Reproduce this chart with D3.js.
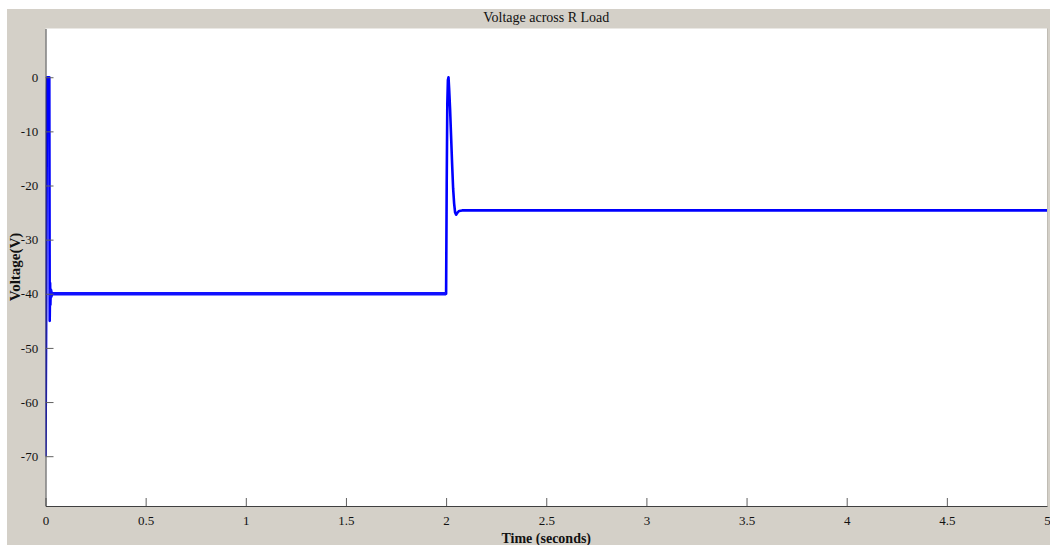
<!DOCTYPE html>
<html>
<head>
<meta charset="utf-8">
<script src="https://cdn.jsdelivr.net/npm/d3@7"></script>
<style>
  html, body { margin: 0; padding: 0; background: #ffffff; }
  svg { display: block; }
  text { font-family: "Liberation Serif", "Times New Roman", serif; fill: #111; }
</style>
</head>
<body>
<svg id="chart" width="1050" height="545"></svg>
<script>
// ---- data ----
const title = "Voltage across R Load";
const xLabel = "Time (seconds)";
const yLabel = "Voltage(V)";
const xTicks = [0, 0.5, 1, 1.5, 2, 2.5, 3, 3.5, 4, 4.5, 5];
const yTicks = [0, -10, -20, -30, -40, -50, -60, -70];
const xDomain = [0, 5];
const yDomain = [-79.2, 9];

// time (s) and voltage (V) of the trace
const time = [0, 0.004, 0.007, 0.009, 0.019, 0.021, 0.023, 0.0245, 0.026, 0.0275, 0.029, 0.031, 0.034,
              0.5, 1.0, 1.5, 1.998,
              2.0, 2.003, 2.006, 2.009, 2.012, 2.015, 2.02, 2.025, 2.03, 2.035, 2.04, 2.045, 2.05, 2.057, 2.065, 2.08,
              3, 4, 5];
const voltage = [-70, -40, -3, 0, 0, -45, -38, -42, -39.2, -40.6, -39.7, -40.2, -40,
                 -40, -40, -40, -40,
                 -40, -20, -5, -0.5, 0, -2, -6, -11, -16, -20.5, -23.3, -25, -25.4, -25.0, -24.7, -24.6,
                 -24.6, -24.6, -24.6];
// portion of the trace that looks slightly noisy/thicker (steady state before the step)
const steadyStart = 0.026, steadyEnd = 2.0;

// ---- layout ----
const W = 1050, H = 545;
const plot = { left: 45.5, right: 1047, top: 28.5, bottom: 506 };

const svg = d3.select("#chart");

// grey figure background
svg.append("rect").attr("x", 7).attr("y", 9).attr("width", W - 7).attr("height", H - 9)
  .attr("fill", "#d4d0c8");
// white plot area
svg.append("rect").attr("x", plot.left).attr("y", plot.top)
  .attr("width", plot.right - plot.left).attr("height", plot.bottom - plot.top)
  .attr("fill", "#ffffff");

const x = d3.scaleLinear().domain(xDomain).range([plot.left, plot.right]);
const y = d3.scaleLinear().domain(yDomain).range([plot.bottom, plot.top]);

const pts = time.map((t, i) => [t, voltage[i]]);
const line = d3.line().x(d => x(d[0])).y(d => y(d[1]));

svg.append("clipPath").attr("id", "clip").append("rect")
  .attr("x", plot.left).attr("y", plot.top)
  .attr("width", plot.right - plot.left).attr("height", plot.bottom - plot.top);

const g = svg.append("g").attr("clip-path", "url(#clip)");
g.append("path").datum(pts).attr("d", line)
  .attr("fill", "none").attr("stroke", "#0000ff").attr("stroke-width", 2.6)
  .attr("stroke-linejoin", "round");
g.append("path").datum(pts.filter(d => d[0] >= steadyStart && d[0] <= steadyEnd)).attr("d", line)
  .attr("fill", "none").attr("stroke", "#1010ff").attr("stroke-width", 3.4);

// axes
const fmt = d => String(d);
const xAxis = d3.axisBottom(x).tickValues(xTicks).tickSizeInner(-8).tickSizeOuter(0)
  .tickPadding(10).tickFormat(fmt);
const yAxis = d3.axisLeft(y).tickValues(yTicks).tickSizeInner(-8).tickSizeOuter(0)
  .tickPadding(6).tickFormat(fmt);

const gx = svg.append("g").attr("transform", `translate(0,${plot.bottom})`).call(xAxis);
const gy = svg.append("g").attr("transform", `translate(${plot.left},0)`).call(yAxis);
[gx, gy].forEach(a => {
  a.selectAll("path.domain").attr("stroke", "#404040").attr("stroke-width", 1);
  a.selectAll(".tick line").attr("stroke", "#606060");
  a.selectAll(".tick text").attr("font-family", "Liberation Serif, serif")
    .attr("font-size", 13).attr("fill", "#111");
});
gy.selectAll(".tick text").attr("dx", "-0.1em");

// right edge line
svg.append("line").attr("x1", plot.right + 0.5).attr("x2", plot.right + 0.5)
  .attr("y1", plot.top).attr("y2", plot.bottom).attr("stroke", "#c0bcb4");

// title & labels
svg.append("text").attr("x", (plot.left + plot.right) / 2).attr("y", 22)
  .attr("text-anchor", "middle").attr("font-size", 14).text(title);
svg.append("text").attr("x", (plot.left + plot.right) / 2).attr("y", 543)
  .attr("text-anchor", "middle").attr("font-size", 14).attr("font-weight", "bold").text(xLabel);
svg.append("text").attr("transform", `translate(20,267) rotate(-90)`)
  .attr("text-anchor", "middle").attr("font-size", 15).attr("font-weight", "bold").text(yLabel);
</script>
</body>
</html>
